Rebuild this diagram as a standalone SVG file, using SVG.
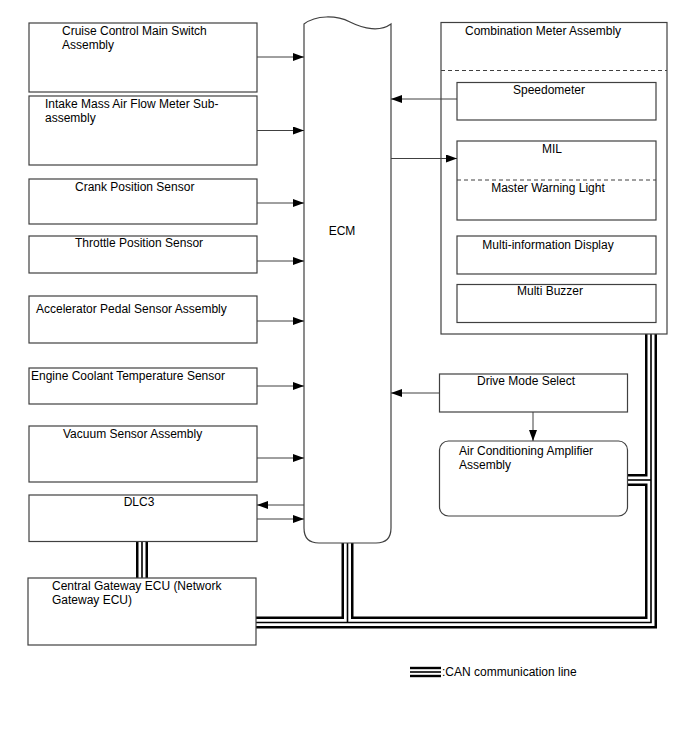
<svg xmlns="http://www.w3.org/2000/svg" width="688" height="755" viewBox="0 0 688 755">
<defs>
<marker id="ah" markerWidth="11" markerHeight="8" refX="11" refY="4" orient="auto" markerUnits="userSpaceOnUse">
<path d="M0,0 L11,4 L0,8 Z" fill="#000"/>
</marker>
<style>
.box{fill:#fff;stroke:#404040;stroke-width:1.2}
.t{font-family:"Liberation Sans",Arial,sans-serif;font-size:12px;fill:#000}
.c{text-anchor:middle}
.ar{stroke:#404040;stroke-width:1;fill:none;marker-end:url(#ah)}
.dash{stroke:#404040;stroke-width:1;stroke-dasharray:4,3;fill:none}
.canB{stroke:#000;stroke-width:12;fill:none}
.canW{stroke:#fff;stroke-width:7;fill:none}
.canM{stroke:#000;stroke-width:1.6;fill:none}
</style>
</defs>
<rect width="688" height="755" fill="#fff"/>

<g id="can-lines">
<path class="canB" d="M142,541 V578"/>
<path class="canB" d="M256,622.5 H651 V334"/>
<path class="canB" d="M347.5,542 V622.5"/>
<path class="canB" d="M627,480 H651"/>
<path class="canW" d="M142,541 V578"/>
<path class="canW" d="M256,622.5 H651 V334"/>
<path class="canW" d="M347.5,542 V622.5"/>
<path class="canW" d="M627,480 H651"/>
<path class="canM" d="M142,541 V578"/>
<path class="canM" d="M256,622.5 H651 V334"/>
<path class="canM" d="M347.5,542 V622.5"/>
<path class="canM" d="M627,480 H651"/>
</g>

<g id="ecm">
<path class="box" d="M304,24 C316,15 336,15 350,22 C364,29 380,32 391,24 L391,528 Q391,543 376,543 L319,543 Q304,543 304,528 Z"/>
<text class="t c" x="342" y="235">ECM</text>
</g>

<g id="cruise">
<rect class="box" x="29" y="23" width="228" height="69"/>
<text class="t" x="62" y="35">Cruise Control Main Switch</text>
<text class="t" x="62" y="49">Assembly</text>
</g>
<g id="maf">
<rect class="box" x="29" y="96" width="228" height="69"/>
<text class="t" x="45" y="108">Intake Mass Air Flow Meter Sub-</text>
<text class="t" x="45" y="122">assembly</text>
</g>
<g id="crank">
<rect class="box" x="29" y="179" width="228" height="45"/>
<text class="t" x="75" y="191">Crank Position Sensor</text>
</g>
<g id="throttle">
<rect class="box" x="29" y="236" width="228" height="37"/>
<text class="t" x="75" y="247">Throttle Position Sensor</text>
</g>
<g id="accel">
<rect class="box" x="29" y="296" width="228" height="47"/>
<text class="t" x="36" y="313">Accelerator Pedal Sensor Assembly</text>
</g>
<g id="coolant">
<rect class="box" x="29" y="368" width="228" height="36"/>
<text class="t" x="31" y="380">Engine Coolant Temperature Sensor</text>
</g>
<g id="vacuum">
<rect class="box" x="29" y="426" width="228" height="56"/>
<text class="t" x="63" y="438">Vacuum Sensor Assembly</text>
</g>
<g id="dlc3">
<rect class="box" x="29" y="495" width="228" height="46.5"/>
<text class="t c" x="139" y="506">DLC3</text>
</g>
<g id="gateway">
<rect class="box" x="28" y="578" width="228" height="67"/>
<text class="t" x="52" y="590">Central Gateway ECU (Network</text>
<text class="t" x="52" y="604">Gateway ECU)</text>
</g>

<g id="combination-meter">
<rect class="box" x="441" y="22.5" width="226" height="311.5"/>
<text class="t" x="465" y="35">Combination Meter Assembly</text>
<line class="dash" x1="441" y1="70.5" x2="667" y2="70.5"/>
<g id="speedometer">
<rect class="box" x="457" y="82.5" width="199" height="37.5"/>
<text class="t c" x="549" y="94">Speedometer</text>
</g>
<g id="mil">
<rect class="box" x="457" y="141" width="199" height="79"/>
<text class="t c" x="552" y="153">MIL</text>
<line class="dash" x1="457" y1="180" x2="656" y2="180"/>
<text class="t c" x="548" y="192">Master Warning Light</text>
</g>
<g id="mid">
<rect class="box" x="457" y="236" width="199" height="38"/>
<text class="t c" x="548" y="249">Multi-information Display</text>
</g>
<g id="buzzer">
<rect class="box" x="457" y="284.5" width="199" height="38"/>
<text class="t c" x="550" y="295">Multi Buzzer</text>
</g>
</g>

<g id="drive-mode">
<rect class="box" x="439.5" y="374" width="188" height="38"/>
<text class="t c" x="526" y="385">Drive Mode Select</text>
</g>
<g id="ac-amp">
<rect class="box" x="439.5" y="441" width="188" height="75" rx="9" ry="9"/>
<text class="t" x="459" y="455">Air Conditioning Amplifier</text>
<text class="t" x="459" y="469">Assembly</text>
</g>

<g id="connectors">
<line class="ar" x1="257" y1="57" x2="304" y2="57"/>
<line class="ar" x1="257" y1="130.5" x2="304" y2="130.5"/>
<line class="ar" x1="257" y1="203" x2="304" y2="203"/>
<line class="ar" x1="257" y1="261" x2="304" y2="261"/>
<line class="ar" x1="257" y1="321" x2="304" y2="321"/>
<line class="ar" x1="257" y1="386" x2="304" y2="386"/>
<line class="ar" x1="257" y1="458" x2="304" y2="458"/>
<line class="ar" x1="304" y1="505" x2="257" y2="505"/>
<line class="ar" x1="257" y1="519" x2="304" y2="519"/>
<line class="ar" x1="457" y1="99" x2="391" y2="99"/>
<line class="ar" x1="391" y1="158.5" x2="457" y2="158.5"/>
<line class="ar" x1="439" y1="393" x2="391" y2="393"/>
<line class="ar" x1="533" y1="412" x2="533" y2="441"/>
</g>

<g id="legend">
<line x1="410" y1="668" x2="441" y2="668" stroke="#000" stroke-width="2.4"/>
<line x1="410" y1="672" x2="441" y2="672" stroke="#000" stroke-width="1.6"/>
<line x1="410" y1="676" x2="441" y2="676" stroke="#000" stroke-width="2.4"/>
<text class="t" x="442" y="676">:CAN communication line</text>
</g>
</svg>
